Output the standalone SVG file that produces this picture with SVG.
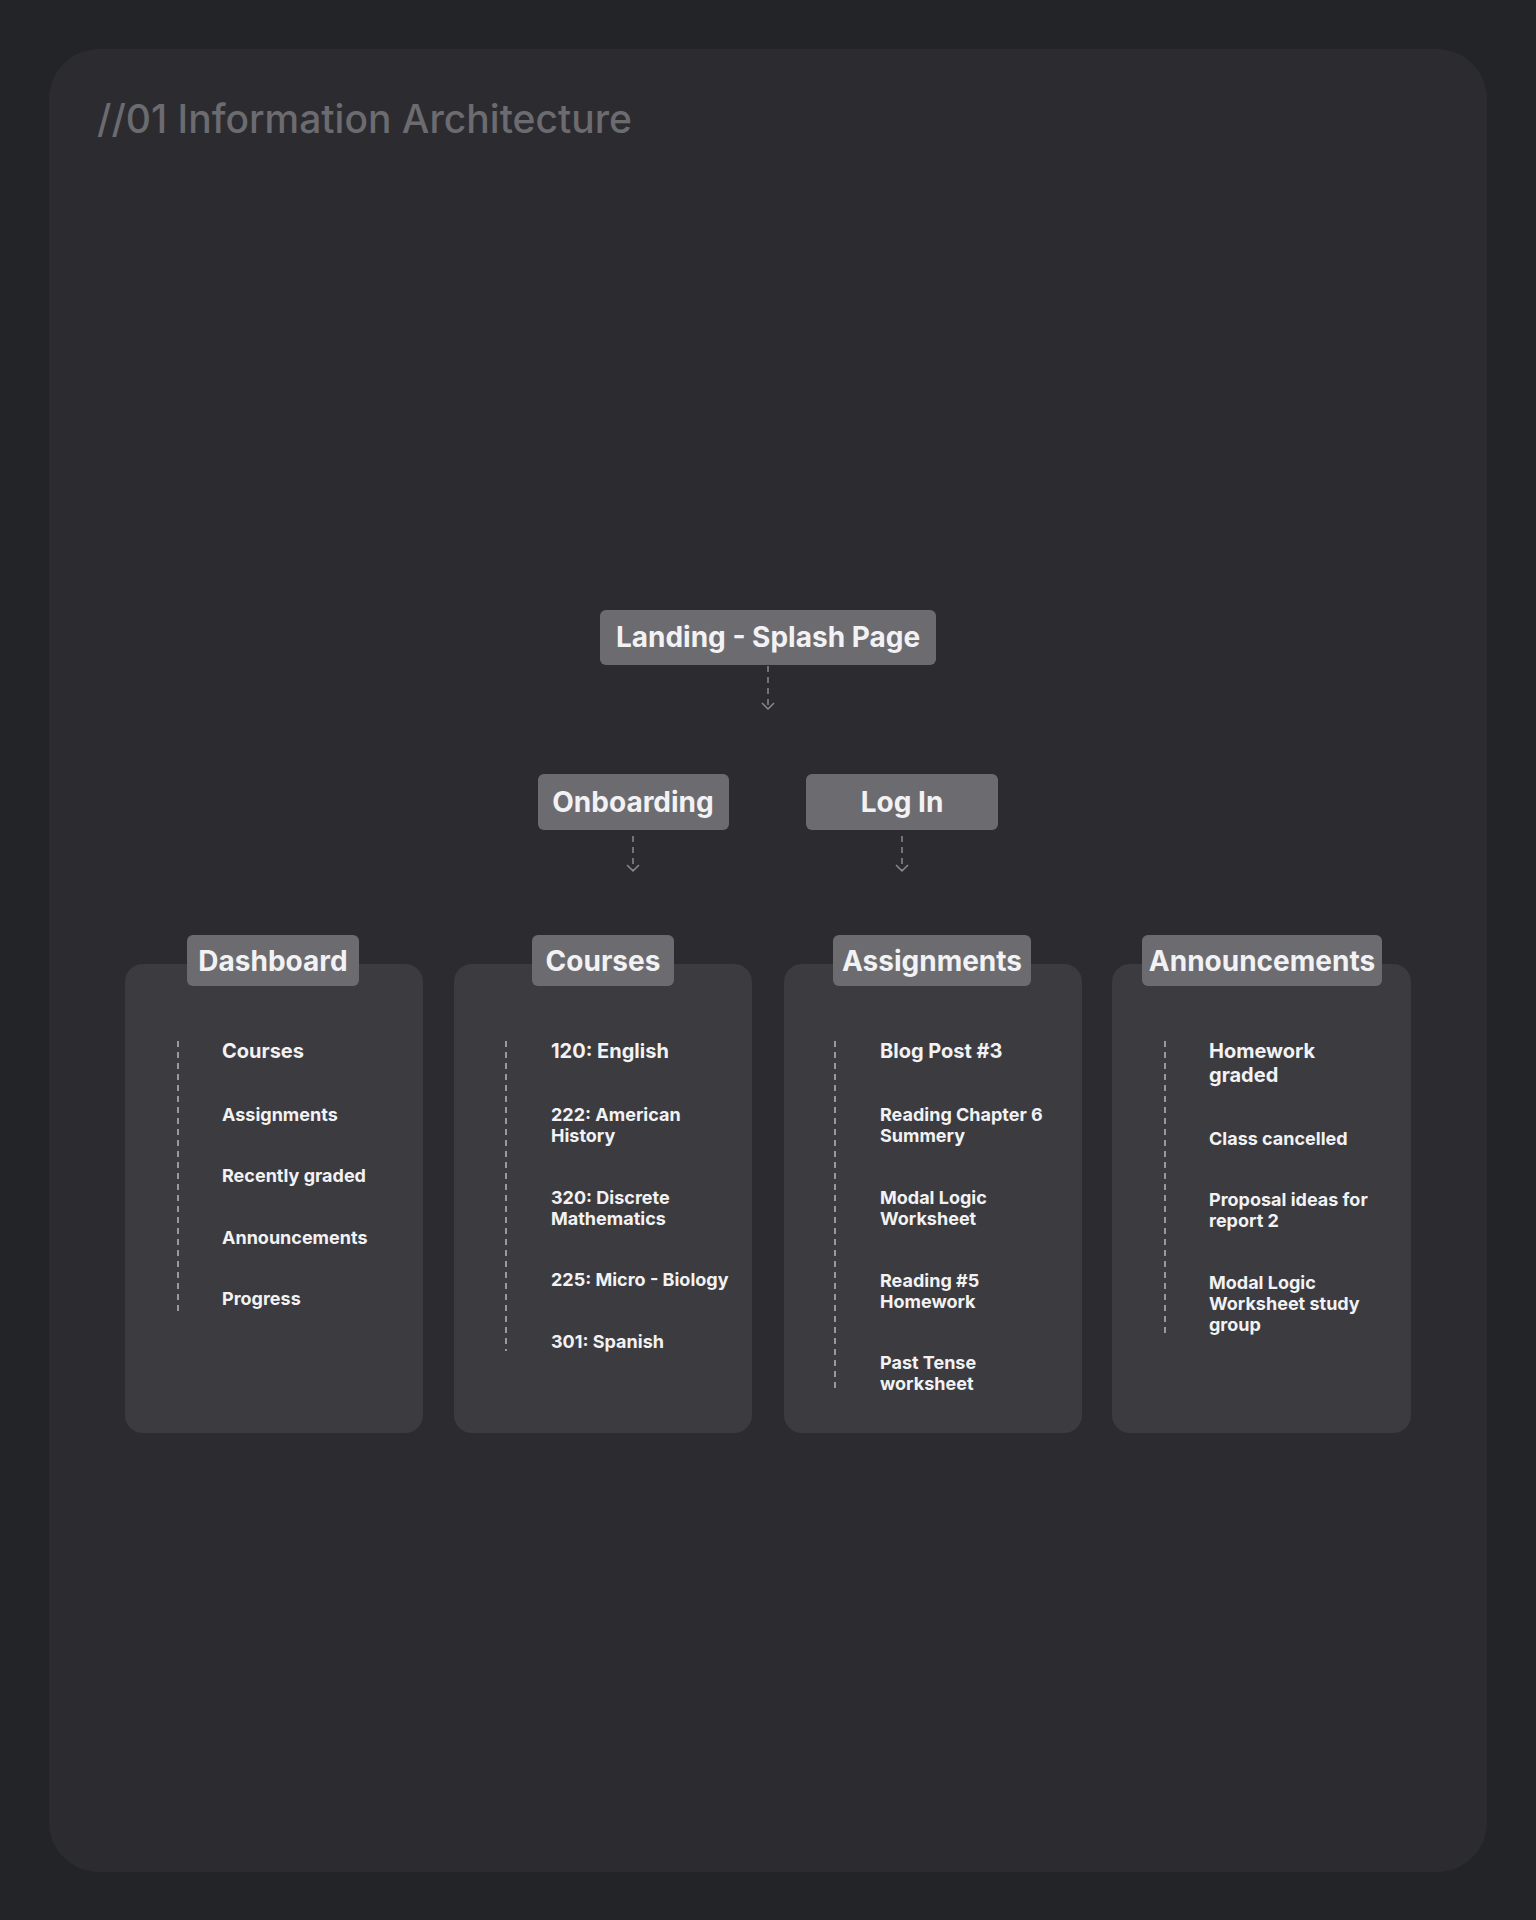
<svg xmlns="http://www.w3.org/2000/svg" width="1536" height="1920" viewBox="0 0 1536 1920">
<style>
text{font-family:Inter,"Noto Sans","Liberation Sans",sans-serif;font-weight:700;fill:#f2f2f4}
.node rect{fill:#6c6c70}
.nt{font-size:28px;text-anchor:middle}
.card{fill:#3c3c40}
.it{font-size:18px}
.it1{font-size:20px}
.dl{stroke:#b8b8bc;stroke-width:1.5;stroke-dasharray:6 5;fill:none}
.cn{stroke:#8a8a8e;stroke-width:1.5;stroke-dasharray:6 5;fill:none}
.ah{stroke:#8a8a8e;stroke-width:1.5;fill:none}
</style>
<rect width="1536" height="1920" fill="#232427"/>
<rect x="49" y="49" width="1438" height="1823" rx="50" fill="#2c2c30"/>
<text x="97" y="133" style="font-size:39px;font-weight:500;fill:#6b6b70">//01 Information Architecture</text>
<g id="connectors">
<path class="cn" d="M768 666V708"/><path class="ah" d="M762 703l6 6 6-6"/>
<path class="cn" d="M633 836V870"/><path class="ah" d="M627 865l6 6 6-6"/>
<path class="cn" d="M902 836V870"/><path class="ah" d="M896 865l6 6 6-6"/>
</g>
<g id="landing" class="node"><rect x="600" y="610" width="336" height="55" rx="6"/><text class="nt" x="768" y="647">Landing - Splash Page</text></g>
<g id="onboarding" class="node"><rect x="538" y="774" width="191" height="56" rx="6"/><text class="nt" x="633" y="812">Onboarding</text></g>
<g id="login" class="node"><rect x="806" y="774" width="192" height="56" rx="6"/><text class="nt" x="902" y="812">Log In</text></g>
<g id="dashboard">
<rect class="card" x="125" y="964" width="298" height="469" rx="18"/>
<g class="node"><rect x="187" y="935" width="172" height="51" rx="6"/><text class="nt" x="273" y="971">Dashboard</text></g>
<path class="dl" d="M178 1041V1311"/>
<text class="it1" x="222" y="1058">Courses</text>
<text class="it" x="222" y="1121">Assignments</text>
<text class="it" x="222" y="1182">Recently graded</text>
<text class="it" x="222" y="1244">Announcements</text>
<text class="it" x="222" y="1305">Progress</text>
</g>
<g id="courses">
<rect class="card" x="454" y="964" width="298" height="469" rx="18"/>
<g class="node"><rect x="532" y="935" width="142" height="51" rx="6"/><text class="nt" x="603" y="971">Courses</text></g>
<path class="dl" d="M506 1041V1351"/>
<text class="it1" x="551" y="1058">120: English</text>
<text class="it" x="551" y="1121">222: American</text><text class="it" x="551" y="1142">History</text>
<text class="it" x="551" y="1204">320: Discrete</text><text class="it" x="551" y="1225">Mathematics</text>
<text class="it" x="551" y="1286">225: Micro - Biology</text>
<text class="it" x="551" y="1348">301: Spanish</text>
</g>
<g id="assignments">
<rect class="card" x="784" y="964" width="298" height="469" rx="18"/>
<g class="node"><rect x="833" y="935" width="198" height="51" rx="6"/><text class="nt" x="932" y="971">Assignments</text></g>
<path class="dl" d="M835 1041V1390"/>
<text class="it1" x="880" y="1058">Blog Post #3</text>
<text class="it" x="880" y="1121">Reading Chapter 6</text><text class="it" x="880" y="1142">Summery</text>
<text class="it" x="880" y="1204">Modal Logic</text><text class="it" x="880" y="1225">Worksheet</text>
<text class="it" x="880" y="1287">Reading #5</text><text class="it" x="880" y="1308">Homework</text>
<text class="it" x="880" y="1369">Past Tense</text><text class="it" x="880" y="1390">worksheet</text>
</g>
<g id="announcements">
<rect class="card" x="1112" y="964" width="299" height="469" rx="18"/>
<g class="node"><rect x="1142" y="935" width="240" height="51" rx="6"/><text class="nt" x="1262" y="971">Announcements</text></g>
<path class="dl" d="M1165 1041V1335"/>
<text class="it1" x="1209" y="1058">Homework</text><text class="it1" x="1209" y="1082">graded</text>
<text class="it" x="1209" y="1145">Class cancelled</text>
<text class="it" x="1209" y="1206">Proposal ideas for</text><text class="it" x="1209" y="1227">report 2</text>
<text class="it" x="1209" y="1289">Modal Logic</text><text class="it" x="1209" y="1310">Worksheet study</text><text class="it" x="1209" y="1331">group</text>
</g>
</svg>
